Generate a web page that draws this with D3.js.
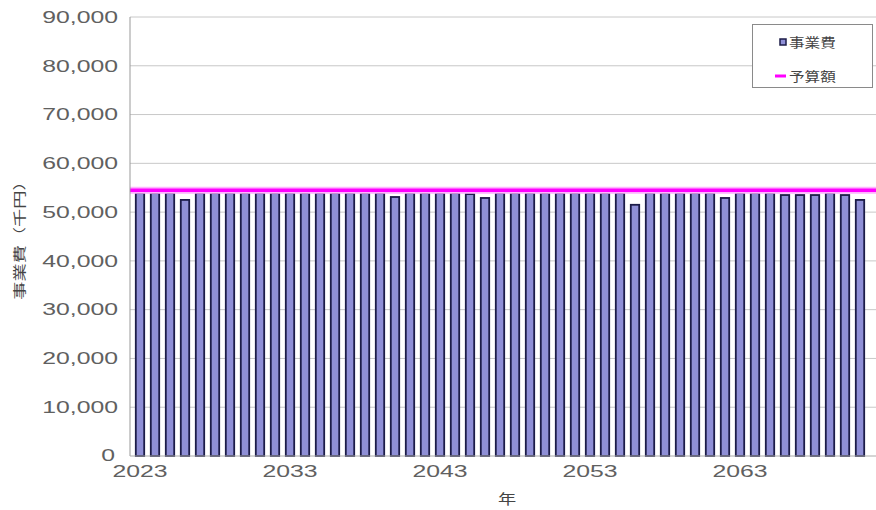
<!DOCTYPE html>
<html lang="ja">
<head>
<meta charset="utf-8" />
<title>事業費と予算額</title>
<script src="https://cdn.jsdelivr.net/npm/d3@7"></script>
<style>
  html, body { margin: 0; padding: 0; background: #fff; }
  svg { display: block; }
</style>
</head>
<body>
<svg id="chart" width="876" height="510"></svg>
<script>
// 年（カテゴリ）
const years = [
  2023, 2024, 2025, 2026, 2027, 2028, 2029, 2030, 2031, 2032,
  2033, 2034, 2035, 2036, 2037, 2038, 2039, 2040, 2041, 2042,
  2043, 2044, 2045, 2046, 2047, 2048, 2049, 2050, 2051, 2052,
  2053, 2054, 2055, 2056, 2057, 2058, 2059, 2060, 2061, 2062,
  2063, 2064, 2065, 2066, 2067, 2068, 2069, 2070, 2071
];
// 事業費（千円）
const costs = [
  53900, 53900, 53900, 52500, 53900, 53900, 53900, 53900, 53900, 53900,
  53900, 53900, 53900, 53900, 53900, 53900, 53900, 53100, 53900, 53900,
  53900, 53900, 53700, 52900, 53900, 53900, 53900, 53900, 53900, 53900,
  53900, 53900, 53900, 51500, 53900, 53900, 53900, 53900, 53900, 52900,
  53900, 53900, 53900, 53500, 53500, 53500, 53900, 53500, 52500
];
// 予算額（千円）
const budget = 54500;
const yTicks = [0, 10000, 20000, 30000, 40000, 50000, 60000, 70000, 80000, 90000];
const xTickYears = [2023, 2033, 2043, 2053, 2063];
const legendNames = ["事業費", "予算額"];

const svg = d3.select("#chart");
const W = 876;
const plot = { left: 130, top: 17, bottom: 456, right: W };
const sx = 1.55;            // 横長の文字
const textColor = "#606060";
const barFill = "#8f8fd6";
const barStroke = "#1c1c48";
const budgetColor = "#ff00ff";
const latin = "'Liberation Sans', Arial, sans-serif";
const cjk = "'Noto Sans CJK JP', sans-serif";

const x = d3.scaleBand()
  .domain(years)
  .range([132.5, 132.5 + 15 * years.length])
  .paddingInner(0.44)
  .paddingOuter(0.22);

const y = d3.scaleLinear()
  .domain([0, 90000])
  .range([plot.bottom, plot.top]);

// グリッド線
svg.append("g")
  .selectAll("line")
  .data(yTicks.filter(d => d > 0))
  .join("line")
  .attr("x1", plot.left)
  .attr("x2", plot.right)
  .attr("y1", d => y(d))
  .attr("y2", d => y(d))
  .attr("stroke", "#c8c8c8")
  .attr("stroke-width", 1);

// 棒
svg.append("g")
  .selectAll("rect")
  .data(years.map((yr, i) => ({ yr, v: costs[i] })))
  .join("rect")
  .attr("x", d => x(d.yr))
  .attr("y", d => y(d.v))
  .attr("width", x.bandwidth())
  .attr("height", d => y(0) - y(d.v))
  .attr("fill", barFill)
  .attr("stroke", barStroke)
  .attr("stroke-width", 1.8);

// 予算額ライン
svg.append("line")
  .attr("x1", plot.left)
  .attr("x2", plot.right)
  .attr("y1", y(budget))
  .attr("y2", y(budget))
  .attr("stroke", "#ffb3ff")
  .attr("stroke-width", 7);
svg.append("line")
  .attr("x1", plot.left)
  .attr("x2", plot.right)
  .attr("y1", y(budget))
  .attr("y2", y(budget))
  .attr("stroke", budgetColor)
  .attr("stroke-width", 3.5);

// 軸線
svg.append("line")
  .attr("x1", plot.left).attr("x2", plot.left)
  .attr("y1", plot.top).attr("y2", plot.bottom)
  .attr("stroke", "#999");
svg.append("line")
  .attr("x1", plot.left).attr("x2", plot.right)
  .attr("y1", plot.bottom).attr("y2", plot.bottom)
  .attr("stroke", "#aaa");

// y軸ラベル
const fmt = d3.format(",");
svg.append("g")
  .selectAll("text")
  .data(yTicks)
  .join("text")
  .attr("transform", d => d === 0
    ? `translate(${plot.left - 15},${y(d) - 1}) scale(${sx},1)`
    : `translate(${plot.left - 12},${y(d)}) scale(${sx},1)`)
  .attr("text-anchor", "end")
  .attr("dy", "0.36em")
  .attr("font-family", latin)
  .attr("font-size", 16)
  .attr("fill", textColor)
  .text(d => fmt(d));

// x軸ラベル
svg.append("g")
  .selectAll("text")
  .data(xTickYears)
  .join("text")
  .attr("transform", d => `translate(${x(d) + x.bandwidth() / 2},${plot.bottom + 21}) scale(${sx},1)`)
  .attr("text-anchor", "middle")
  .attr("font-family", latin)
  .attr("font-size", 16)
  .attr("fill", textColor)
  .text(d => d);

// 軸タイトル
svg.append("text")
  .attr("transform", `translate(507,504) scale(1.3,1)`)
  .attr("text-anchor", "middle")
  .attr("font-family", cjk)
  .attr("font-size", 14)
  .attr("fill", "#444")
  .text("年");

svg.append("text")
  .attr("transform", `translate(24,236) rotate(-90) scale(1.4,1)`)
  .attr("text-anchor", "middle")
  .attr("font-family", cjk)
  .attr("font-size", 13)
  .attr("fill", "#444")
  .text("事業費（千円）");

// 凡例
const legend = svg.append("g");
legend.append("rect")
  .attr("x", 752.5).attr("y", 24.5)
  .attr("width", 120).attr("height", 63)
  .attr("fill", "#fff")
  .attr("stroke", "#8a8a8a");

legend.append("rect")
  .attr("x", 780).attr("y", 39)
  .attr("width", 6).attr("height", 6)
  .attr("fill", barFill)
  .attr("stroke", barStroke)
  .attr("stroke-width", 1.5);
legend.append("line")
  .attr("x1", 775).attr("x2", 786)
  .attr("y1", 76).attr("y2", 76)
  .attr("stroke", budgetColor)
  .attr("stroke-width", 3);

legend.selectAll("text")
  .data(legendNames)
  .join("text")
  .attr("transform", (d, i) => `translate(789,${47 + i * 34}) scale(1.2,1)`)
  .attr("font-family", cjk)
  .attr("font-size", 13)
  .attr("fill", "#444")
  .text(d => d);
</script>
</body>
</html>
